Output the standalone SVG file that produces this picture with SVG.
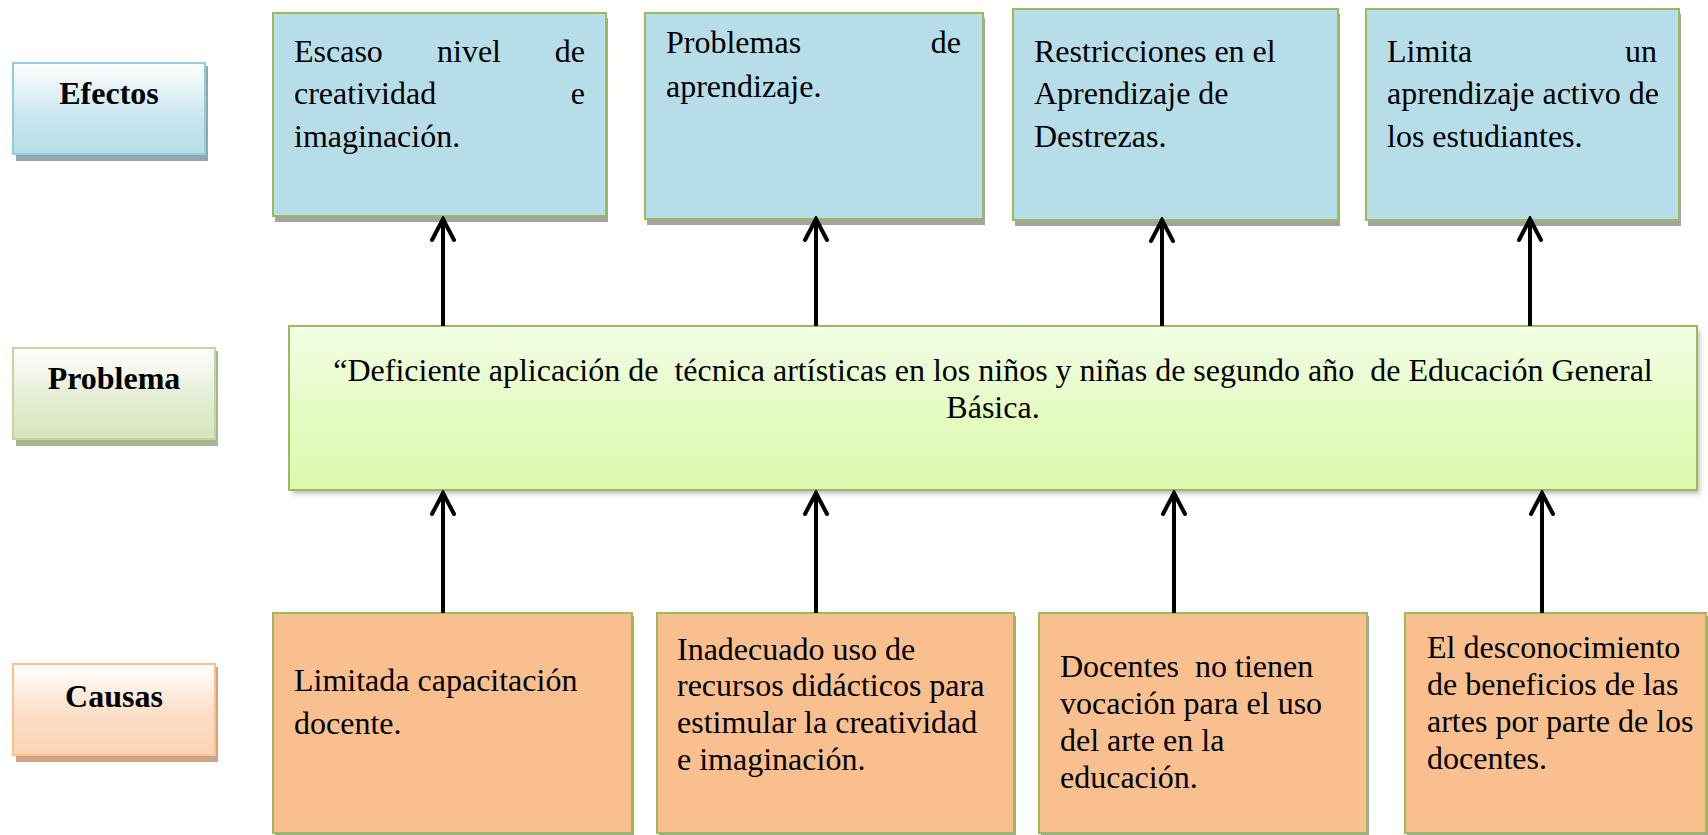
<svg xmlns="http://www.w3.org/2000/svg" width="1708" height="835" viewBox="0 0 1708 835">
<style>
text{font-family:"Liberation Serif","Times New Roman",serif;font-size:32px;fill:#000;white-space:pre}
.lbl{font-weight:bold;text-anchor:middle}
.eff{fill:#B7DDE8;stroke:#9BBB59;stroke-width:2}
.cau{fill:#F9BF8F;stroke:#9BBB59;stroke-width:2}
.shd{fill:#A3A3A3}
.arr{stroke:#000;stroke-width:4;fill:none;marker-end:url(#ah)}
.end{text-anchor:end}
.mid{text-anchor:middle}
</style>
<defs>
<marker id="ah" viewBox="-24 -13 27 26" refX="0" refY="0" markerWidth="27" markerHeight="26" markerUnits="userSpaceOnUse" orient="auto">
<path d="M-21,-11 L0,0 L-21,11" fill="none" stroke="#000" stroke-width="4" stroke-linecap="round" stroke-linejoin="miter"/>
</marker>
<linearGradient id="gE" x1="0" y1="0" x2="0" y2="1"><stop offset="0" stop-color="#FFFFFF"/><stop offset="0.6" stop-color="#C8E5EE"/><stop offset="1" stop-color="#B7DDE8"/></linearGradient>
<linearGradient id="gP" x1="0" y1="0" x2="0" y2="1"><stop offset="0" stop-color="#FFFFFF"/><stop offset="0.6" stop-color="#E2EBD0"/><stop offset="1" stop-color="#D7E4BD"/></linearGradient>
<linearGradient id="gC" x1="0" y1="0" x2="0" y2="1"><stop offset="0" stop-color="#FFFFFF"/><stop offset="0.6" stop-color="#FBDCC2"/><stop offset="1" stop-color="#FBD4B4"/></linearGradient>
<linearGradient id="gM" x1="0" y1="0" x2="0" y2="1"><stop offset="0" stop-color="#F2FDE6"/><stop offset="0.55" stop-color="#E4FBC2"/><stop offset="1" stop-color="#DCF9AE"/></linearGradient>
<filter id="blur" x="-5%" y="-5%" width="110%" height="120%"><feGaussianBlur stdDeviation="2"/></filter>
</defs>

<g id="label-efectos">
<rect x="16" y="66" width="192" height="95" fill="#8FA8B0"/>
<rect x="13" y="63" width="192" height="91" fill="url(#gE)" stroke="#92CDDC" stroke-width="2"/>
<text class="lbl" x="109" y="104">Efectos</text>
</g>
<g id="label-problema">
<rect x="16" y="351" width="202" height="95" fill="#A7B694"/>
<rect x="13" y="348" width="202" height="91" fill="url(#gP)" stroke="#C3D69B" stroke-width="2"/>
<text class="lbl" x="114" y="389">Problema</text>
</g>
<g id="label-causas">
<rect x="16" y="667" width="202" height="95" fill="#CFA386"/>
<rect x="13" y="664" width="202" height="91" fill="url(#gC)" stroke="#FAC090" stroke-width="2"/>
<text class="lbl" x="114" y="707">Causas</text>
</g>

<g id="efecto-1">
<rect class="shd" x="275" y="18" width="333" height="204"/>
<rect class="eff" x="273" y="13" width="333" height="203"/>
<text x="294" y="62">Escaso</text><text x="437" y="62">nivel</text><text class="end" x="585" y="62">de</text>
<text x="294" y="104">creatividad</text><text class="end" x="585" y="104">e</text>
<text x="294" y="147">imaginación.</text>
</g>
<g id="efecto-2">
<rect class="shd" x="647" y="18" width="338" height="207"/>
<rect class="eff" x="645" y="13" width="338" height="206"/>
<text x="666" y="53">Problemas</text><text class="end" x="961" y="53">de</text>
<text x="666" y="97">aprendizaje.</text>
</g>
<g id="efecto-3">
<rect class="shd" x="1015" y="14" width="325" height="212"/>
<rect class="eff" x="1013" y="9" width="325" height="211"/>
<text x="1034" y="62">Restricciones en el</text>
<text x="1034" y="104">Aprendizaje de</text>
<text x="1034" y="147">Destrezas.</text>
</g>
<g id="efecto-4">
<rect class="shd" x="1368" y="14" width="313" height="212"/>
<rect class="eff" x="1366" y="9" width="313" height="211"/>
<text x="1387" y="62">Limita</text><text class="end" x="1657" y="62">un</text>
<text x="1387" y="104">aprendizaje activo de</text>
<text x="1387" y="147">los estudiantes.</text>
</g>

<g id="problema">
<rect x="292" y="330" width="1408" height="164" fill="#9A9A9A" opacity="0.6" filter="url(#blur)"/>
<rect x="289" y="326" width="1408" height="164" fill="url(#gM)" stroke="#9BBB59" stroke-width="2"/>
<text class="mid" x="993" y="381">“Deficiente aplicación de  técnica artísticas en los niños y niñas de segundo año  de Educación General</text>
<text class="mid" x="993" y="418">Básica.</text>
</g>

<g id="causa-1">
<rect class="shd" x="275" y="616" width="359" height="220"/>
<rect class="cau" x="273" y="613" width="359" height="220"/>
<text x="294" y="691">Limitada capacitación</text>
<text x="294" y="734">docente.</text>
</g>
<g id="causa-2">
<rect class="shd" x="659" y="616" width="357" height="220"/>
<rect class="cau" x="657" y="613" width="357" height="220"/>
<text x="677" y="660">Inadecuado uso de</text>
<text x="677" y="696">recursos didácticos para</text>
<text x="677" y="733">estimular la creatividad</text>
<text x="677" y="770">e imaginación.</text>
</g>
<g id="causa-3">
<rect class="shd" x="1041" y="616" width="328" height="220"/>
<rect class="cau" x="1039" y="613" width="328" height="220"/>
<text x="1060" y="677">Docentes  no tienen</text>
<text x="1060" y="714">vocación para el uso</text>
<text x="1060" y="751">del arte en la</text>
<text x="1060" y="788">educación.</text>
</g>
<g id="causa-4">
<rect class="shd" x="1407" y="616" width="301" height="220"/>
<rect class="cau" x="1405" y="613" width="301" height="220"/>
<text x="1427" y="658">El desconocimiento</text>
<text x="1427" y="695">de beneficios de las</text>
<text x="1427" y="732">artes por parte de los</text>
<text x="1427" y="769">docentes.</text>
</g>

<g id="connectors">
<line class="arr" x1="443" y1="326" x2="443" y2="219"/>
<line class="arr" x1="816" y1="326" x2="816" y2="219"/>
<line class="arr" x1="1162" y1="326" x2="1162" y2="220"/>
<line class="arr" x1="1530" y1="326" x2="1530" y2="219"/>
<line class="arr" x1="443" y1="613" x2="443" y2="493"/>
<line class="arr" x1="816" y1="613" x2="816" y2="493"/>
<line class="arr" x1="1174" y1="613" x2="1174" y2="493"/>
<line class="arr" x1="1542" y1="613" x2="1542" y2="493"/>
</g>
</svg>
